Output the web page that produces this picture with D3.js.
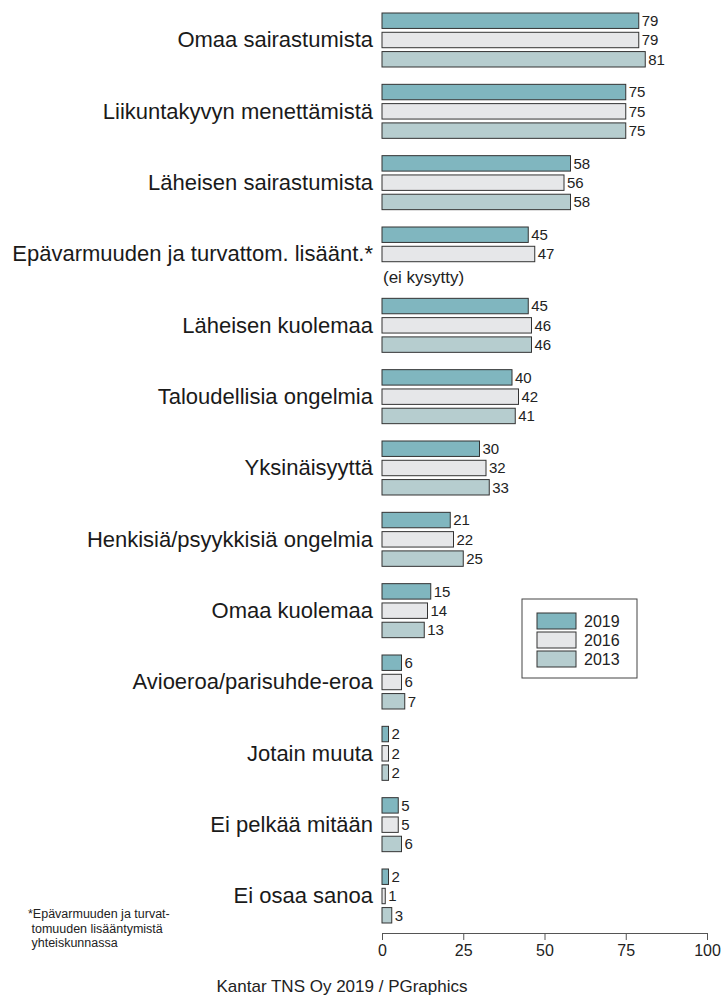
<!DOCTYPE html>
<html>
<head>
<meta charset="utf-8">
<script src="https://cdnjs.cloudflare.com/ajax/libs/d3/7.8.5/d3.min.js"></script>
<style>
body { margin: 0; background: #fff; }
text { font-family: "Liberation Sans", Arial, sans-serif; }
</style>
</head>
<body>
<svg id="chart" width="723" height="999"></svg>
<script>
var categories = ["Omaa sairastumista", "Liikuntakyvyn menettämistä", "Läheisen sairastumista",
  "Epävarmuuden ja turvattom. lisäänt.*", "Läheisen kuolemaa", "Taloudellisia ongelmia",
  "Yksinäisyyttä", "Henkisiä/psyykkisiä ongelmia", "Omaa kuolemaa", "Avioeroa/parisuhde-eroa",
  "Jotain muuta", "Ei pelkää mitään", "Ei osaa sanoa"];
var years = ["2019", "2016", "2013"];
var values2019 = [79, 75, 58, 45, 45, 40, 30, 21, 15, 6, 2, 5, 2];
var values2016 = [79, 75, 56, 47, 46, 42, 32, 22, 14, 6, 2, 5, 1];
var values2013 = [81, 75, 58, null, 46, 41, 33, 25, 13, 7, 2, 6, 3];
var xTicks = [0, 25, 50, 75, 100];
var colors = {"2019": "#80b6bf", "2016": "#e6e7e9", "2013": "#b6cdcf"};

var svg = d3.select("#chart");

var xScaled = d3.scaleLinear().domain([0, 100]).range([382, 707]);
var yScaled = d3.scaleBand().domain(categories).range([13, 923]).paddingInner(0.243).paddingOuter(0);
var ySub = d3.scaleBand().domain(years).range([0, yScaled.bandwidth()]).paddingInner(0.2);

var rows = categories.map(function(c, i) {
  return {cat: c, vals: [
    {year: "2019", v: values2019[i]},
    {year: "2016", v: values2016[i]},
    {year: "2013", v: values2013[i]}
  ]};
});

var groups = svg.selectAll("g.grp")
  .data(rows)
  .enter().append("g")
  .attr("class", "grp")
  .attr("transform", function(d) { return "translate(0," + yScaled(d.cat) + ")"; });

groups.append("text")
  .attr("x", 373)
  .attr("y", yScaled.bandwidth() / 2)
  .attr("dy", "0.33em")
  .attr("text-anchor", "end")
  .attr("font-size", 22)
  .attr("fill", "#1a1a1a")
  .text(function(d) { return d.cat; });

var bars = groups.selectAll("g.bar")
  .data(function(d) { return d.vals.filter(function(e) { return e.v !== null; }); })
  .enter().append("g").attr("class", "bar");

bars.append("rect")
  .attr("x", xScaled(0))
  .attr("y", function(d) { return ySub(d.year); })
  .attr("width", function(d) { return xScaled(d.v) - xScaled(0); })
  .attr("height", ySub.bandwidth())
  .attr("fill", function(d) { return colors[d.year]; })
  .attr("stroke", "#333")
  .attr("stroke-width", 1);

bars.append("text")
  .attr("x", function(d) { return xScaled(d.v) + 3; })
  .attr("y", function(d) { return ySub(d.year) + ySub.bandwidth() / 2; })
  .attr("dy", "0.36em")
  .attr("font-size", 15)
  .attr("fill", "#222")
  .text(function(d) { return d.v; });

// missing 2013 value
var missIdx = values2013.indexOf(null);
svg.append("text")
  .attr("x", xScaled(0) + 1)
  .attr("y", yScaled(categories[missIdx]) + ySub("2013") + ySub.bandwidth() / 2 + 4)
  .attr("dy", "0.36em")
  .attr("font-size", 17)
  .attr("fill", "#222")
  .text("(ei kysytty)");

// axis
var xAxes = d3.axisBottom(xScaled).tickValues(xTicks).tickSize(7).tickPadding(5);
var ax = svg.append("g")
  .attr("transform", "translate(0,933)")
  .call(xAxes);
ax.select(".domain").attr("stroke", "#555");
ax.selectAll(".tick line").attr("stroke", "#555");
ax.selectAll(".tick text").attr("font-size", 16).attr("fill", "#222")
  .attr("font-family", "Liberation Sans, Arial, sans-serif");

// legend
var leg = svg.append("g").attr("transform", "translate(522,599)");
leg.append("rect").attr("width", 115).attr("height", 79)
  .attr("fill", "#fff").attr("stroke", "#444").attr("stroke-width", 1);
years.forEach(function(y, i) {
  leg.append("rect")
    .attr("x", 15).attr("y", 14 + i * 19)
    .attr("width", 39).attr("height", 16)
    .attr("fill", colors[y]).attr("stroke", "#333");
  leg.append("text")
    .attr("x", 62).attr("y", 22 + i * 19)
    .attr("dy", "0.35em")
    .attr("font-size", 16).attr("fill", "#222")
    .text(y);
});

// footnote
var foot = ["*Epävarmuuden ja turvat-", " tomuuden lisääntymistä", " yhteiskunnassa"];
svg.append("g").selectAll("text")
  .data(foot).enter().append("text")
  .attr("x", 28)
  .attr("y", function(d, i) { return 918 + i * 14.5; })
  .attr("font-size", 12.5)
  .attr("fill", "#222")
  .attr("xml:space", "preserve")
  .text(function(d) { return d; });

svg.append("text")
  .attr("x", 342).attr("y", 992)
  .attr("text-anchor", "middle")
  .attr("font-size", 17).attr("fill", "#222")
  .text("Kantar TNS Oy 2019 / PGraphics");
</script>
</body>
</html>
